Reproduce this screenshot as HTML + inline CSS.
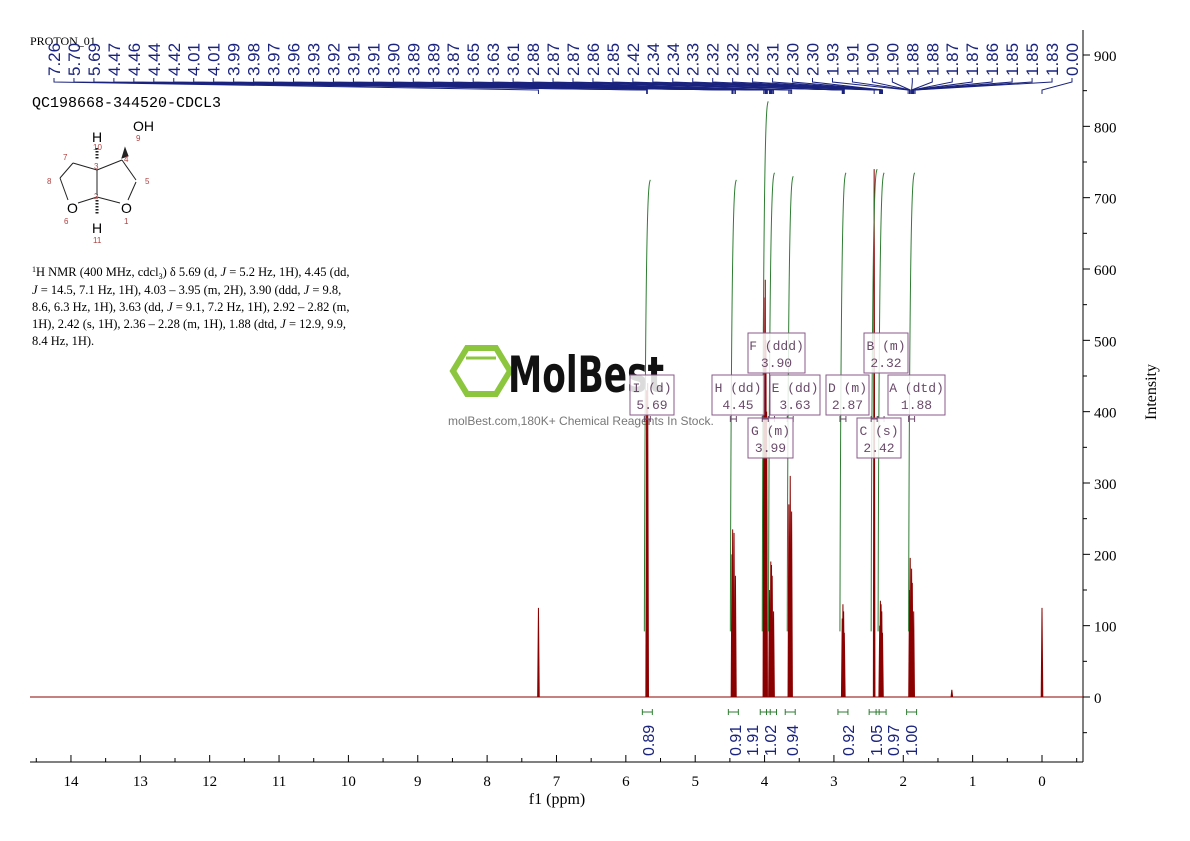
<!DOCTYPE html>
<html><head><meta charset="utf-8">
<style>
html,body{margin:0;padding:0;background:#fff;}
svg{display:block;font-family:"Liberation Serif",serif;}
</style></head>
<body>
<svg id="chart" width="1190" height="841" viewBox="0 0 1190 841" xmlns="http://www.w3.org/2000/svg">
<text x="30" y="45" font-size="12">PROTON_01</text>
<text x="32" y="107" font-size="15" font-family="Liberation Mono, monospace">QC198668-344520-CDCL3</text>
<g id="struct" stroke="#222" stroke-width="1" fill="none" font-family="Liberation Sans, sans-serif">
  <line x1="60" y1="178" x2="73" y2="163"/><line x1="73" y1="163" x2="97" y2="170"/>
  <line x1="97" y1="170" x2="122" y2="160"/><line x1="122" y1="160" x2="136" y2="180"/>
  <line x1="97" y1="170" x2="97" y2="195"/><line x1="60" y1="178" x2="68" y2="200"/>
  <line x1="78" y1="203" x2="97" y2="197"/><line x1="97" y1="197" x2="120" y2="203"/>
  <line x1="136" y1="182" x2="128" y2="200"/>
  <line x1="97" y1="148" x2="97" y2="160" stroke-dasharray="1.5,1.5" stroke-width="3"/>
  <line x1="97" y1="200" x2="97" y2="215" stroke-dasharray="1.5,1.5" stroke-width="3"/>
  <polygon points="125,148 122,158 128,156" fill="#222"/>
</g>
<g font-family="Liberation Sans, sans-serif">
  <text x="133" y="131" font-size="14">OH</text><text x="92" y="142" font-size="14">H</text>
  <text x="92" y="233" font-size="14">H</text><text x="67" y="213" font-size="14">O</text><text x="121" y="213" font-size="14">O</text>
  <g fill="#b04040" font-size="8"><text x="136" y="141">9</text><text x="93" y="150">10</text><text x="63" y="160">7</text>
  <text x="94" y="169">3</text><text x="124" y="162">4</text><text x="145" y="184">5</text><text x="47" y="184">8</text>
  <text x="94" y="199">2</text><text x="64" y="224">6</text><text x="124" y="224">1</text><text x="93" y="243">11</text></g>
</g>
<g font-size="12.5">
<text x="32" y="276"><tspan font-size="8" dy="-4">1</tspan><tspan dy="4">H NMR (400 MHz, cdcl</tspan><tspan font-size="8" dy="3">3</tspan><tspan dy="-3">) δ 5.69 (d, </tspan><tspan font-style="italic">J</tspan> = 5.2 Hz, 1H), 4.45 (dd,</text>
<text x="32" y="294"><tspan font-style="italic">J</tspan> = 14.5, 7.1 Hz, 1H), 4.03 – 3.95 (m, 2H), 3.90 (ddd, <tspan font-style="italic">J</tspan> = 9.8,</text>
<text x="32" y="311">8.6, 6.3 Hz, 1H), 3.63 (dd, <tspan font-style="italic">J</tspan> = 9.1, 7.2 Hz, 1H), 2.92 – 2.82 (m,</text>
<text x="32" y="328">1H), 2.42 (s, 1H), 2.36 – 2.28 (m, 1H), 1.88 (dtd, <tspan font-style="italic">J</tspan> = 12.9, 9.9,</text>
<text x="32" y="345">8.4 Hz, 1H).</text>
</g>
<g id="watermark">
  <polygon points="467,348 496,348 510,371 496,394 467,394 453,371" fill="none" stroke="#8cc63f" stroke-width="6"/>
  <line x1="466" y1="358" x2="496" y2="358" stroke="#8cc63f" stroke-width="3"/>
  <text x="508" y="392" font-family="DejaVu Sans, sans-serif" font-size="50" font-weight="bold" fill="#111" textLength="156" lengthAdjust="spacingAndGlyphs">MolBest</text>
  <text x="448" y="425" font-family="Liberation Sans, sans-serif" font-size="12" fill="#777">molBest.com,180K+ Chemical Reagents In Stock.</text>
</g>
<g id="axes"></g>
<g id="spec"></g>
<g id="top"></g>
<g id="integ"></g>
<g id="boxes"></g>
<text x="557" y="804" font-size="16" text-anchor="middle">f1 (ppm)</text>
<text transform="translate(1156,392) rotate(-90)" font-size="16" text-anchor="middle">Intensity</text>
</svg>
<script>
const xTicks = [14,13,12,11,10,9,8,7,6,5,4,3,2,1,0];
const yTicks = [0,100,200,300,400,500,600,700,800,900];
const peakPpm = [7.26,5.70,5.685,4.47,4.46,4.44,4.42,4.01,3.99,3.98,3.97,3.93,3.91,3.90,3.89,3.87,3.65,3.63,3.61,2.88,2.87,2.86,2.85,2.42,2.34,2.33,2.32,2.31,2.30,1.91,1.90,1.88,1.87,1.85,1.30,0.00];
const peakHeight = [125,430,440,200,235,230,170,560,585,500,400,150,190,185,170,120,270,310,260,110,130,120,90,740,100,135,130,120,90,150,195,180,160,120,10,125];
const topLabels = ["7.26","5.70","5.69","4.47","4.46","4.44","4.42","4.01","4.01","3.99","3.98","3.97","3.96","3.93","3.92","3.91","3.91","3.90","3.89","3.89","3.87","3.65","3.63","3.61","2.88","2.87","2.87","2.86","2.85","2.42","2.34","2.34","2.33","2.32","2.32","2.32","2.31","2.30","2.30","1.93","1.91","1.90","1.90","1.88","1.88","1.87","1.87","1.86","1.85","1.85","1.83","0.00"];
const integPpm = [5.69,4.45,3.99,3.90,3.63,2.87,2.42,2.32,1.88];
const integValues = ["0.89","0.91","1.91","1.02","0.94","0.92","1.05","0.97","1.00"];
const integTop = [725,725,835,735,730,735,740,735,735];
const multLetter = ["F (ddd)","B (m)","I (d)","H (dd)","E (dd)","D (m)","A (dtd)","G (m)","C (s)"];
const multShift = ["3.90","2.32","5.69","4.45","3.63","2.87","1.88","3.99","2.42"];

const NS="http://www.w3.org/2000/svg";
const X0=1042, PX=69.36, Y0=697, PY=642/900;
const xs=p=>X0-PX*p, ys=v=>Y0-PY*v;
function mk(tag,attrs,parent,txt){const e=document.createElementNS(NS,tag);for(const k in attrs)e.setAttribute(k,attrs[k]);if(txt!==undefined)e.textContent=txt;parent.appendChild(e);return e;}

const ax=document.getElementById('axes');
const xl=mk('line',{x1:30,y1:762,x2:1083,y2:762,stroke:'#000'},ax);


const yl=mk('line',{x1:1083,y1:30,x2:1083,y2:762,stroke:'#000'},ax);


for(let p=14.5;p>=-0.5;p-=0.5){const x=xs(p);if(x<30||x>1083)continue;mk('line',{x1:x,y1:762,x2:x,y2:p%1===0?755:758,stroke:'#000'},ax);}
xTicks.forEach(t=>{const e=mk('text',{x:xs(t),y:786,'font-size':15,'text-anchor':'middle'},ax,String(t));

});
for(let v=-50;v<=950;v+=50){const y=ys(v);if(y<30||y>762)continue;mk('line',{x1:1083,y1:y,x2:v%100===0?1090:1087,y2:y,stroke:'#000'},ax);}
yTicks.forEach(t=>{const e=mk('text',{x:1094,y:ys(t)+6,'font-size':15},ax,String(t));

});

const sp=document.getElementById('spec');
const base=mk('path',{d:'M30,697 L1083,697',stroke:'#8b0000','stroke-width':1,fill:'none'},sp);


peakPpm.forEach((p,i)=>{const x=xs(p),y=ys(peakHeight[i]);
const e=mk('path',{d:`M${x-0.8},697 L${x},${y} L${x+0.8},697`,stroke:'#8b0000','stroke-width':1,fill:'#8b0000'},sp);

});

const tp=document.getElementById('top');
const n=topLabels.length, lx0=54, lstep=(1072-54)/(n-1);
topLabels.forEach((s,i)=>{const x=lx0+i*lstep;
const t=mk('text',{transform:`translate(${x+6},76) rotate(-90)`,'font-size':17,fill:'#1a237e','font-family':'Liberation Sans, sans-serif'},tp,s);


const px=xs(parseFloat(s));
mk('path',{d:`M${x},78 L${x},82 L${px},90 L${px},94`,stroke:'#1a237e','stroke-width':1,fill:'none'},tp);});

const ig=document.getElementById('integ');
integPpm.forEach((p,i)=>{const x=xs(p);
const c=mk('path',{d:`M${x-3},${ys(92)} C${x-2},${ys(integTop[i]-20)} ${x+1},${ys(integTop[i]-5)} ${x+3},${ys(integTop[i])}`,stroke:'#2e7d32','stroke-width':1,fill:'none'},ig);


mk('path',{d:`M${x-5},709 L${x-5},715 M${x-5},712 L${x+5},712 M${x+5},709 L${x+5},715`,stroke:'#2e7d32',fill:'none'},ig);
const lx=[648,735,752,770,792,848,876,893,911][i];
const t=mk('text',{transform:`translate(${lx+6},756) rotate(-90)`,'font-size':16,fill:'#1a237e','font-family':'Liberation Sans, sans-serif'},ig,integValues[i]);

});

const bx=document.getElementById('boxes');
const boxPos=[[748,333,57],[864,333,44],[630,375,44],[712,375,52],[770,375,50],[826,375,43],[888,375,57],[748,418,45],[857,418,44]];
multLetter.forEach((m,i)=>{const [x,y,w]=boxPos[i];
const r=mk('rect',{x:x,y:y,width:w,height:40,fill:'#fff','fill-opacity':0.85,stroke:'#8a5a8a'},bx);


mk('text',{x:x+w/2,y:y+17,'font-size':13,'text-anchor':'middle',fill:'#6a4a6a','font-family':'Liberation Mono, monospace'},bx,m);
mk('text',{x:x+w/2,y:y+34,'font-size':13,'text-anchor':'middle',fill:'#6a4a6a','font-family':'Liberation Mono, monospace'},bx,multShift[i]);
const px=xs(parseFloat(multShift[i]));
mk('path',{d:`M${px-3},416 L${px-3},422 M${px-3},419 L${px+3},419 M${px+3},416 L${px+3},422`,stroke:'#6a4a6a',fill:'none'},bx);});
</script>
</body></html>
